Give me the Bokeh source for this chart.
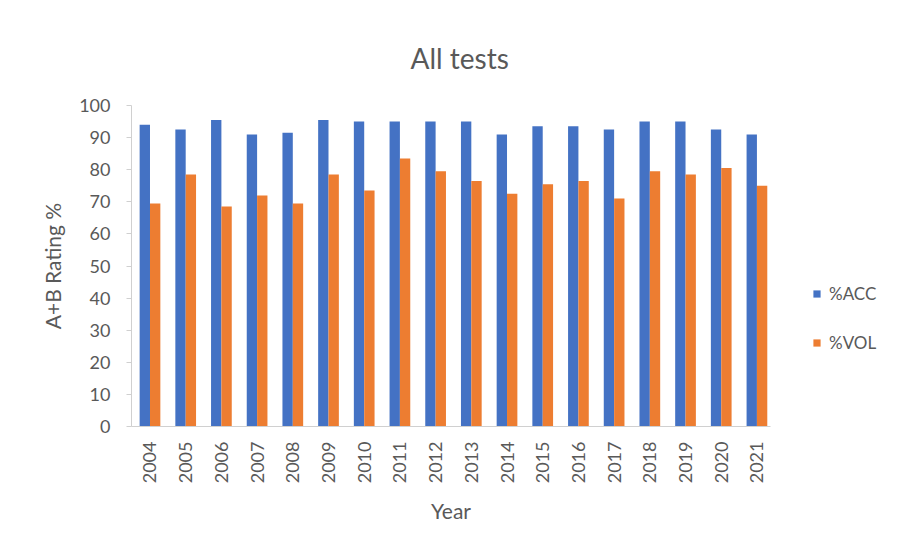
import math
from bokeh.plotting import figure
from bokeh.layouts import row
from bokeh.models import (ColumnDataSource, Range1d, FixedTicker, Legend, LegendItem, Title)
from bokeh.transform import dodge
from bokeh.embed import file_html
from bokeh.resources import INLINE

# ---- data ----
years = ["2004", "2005", "2006", "2007", "2008", "2009", "2010", "2011", "2012",
         "2013", "2014", "2015", "2016", "2017", "2018", "2019", "2020", "2021"]
acc = [94, 92.5, 95.5, 91, 91.5, 95.5, 95, 95, 95, 95, 91, 93.5, 93.5, 92.5, 95, 95, 92.5, 91]
vol = [69.5, 78.5, 68.5, 72, 69.5, 78.5, 73.5, 83.5, 79.5, 76.5, 72.5, 75.5, 76.5, 71, 79.5, 78.5, 80.5, 75]
y_ticks = [0, 10, 20, 30, 40, 50, 60, 70, 80, 90, 100]
series_names = ["%ACC", "%VOL"]
title_text = "All tests"
x_title = "Year"
y_title = "A+B Rating %"

FONT = "Lato"
TXT = "#595959"
BLUE = "#4472C4"
ORANGE = "#ED7D31"
AXIS = "#D0D0D0"

idx = list(range(len(years)))
src = ColumnDataSource(dict(x=idx, year=years, acc=acc, vol=vol))

p = figure(width=786, height=536, output_backend="svg", toolbar_location=None,
           x_range=Range1d(-0.518, 17.38), y_range=Range1d(0, 100),
           min_border_left=131, min_border_right=16, min_border_top=105, min_border_bottom=110)
p.outline_line_color = None
p.xgrid.visible = False
p.ygrid.visible = False

p.title = Title(text=title_text, align="left", offset=279, standoff=62,
                text_font=FONT, text_font_size="28px", text_font_style="normal",
                text_color=TXT)

p.vbar(x=dodge("x", -0.145), top="acc", width=0.29, source=src,
       fill_color=BLUE, line_color=None)
p.vbar(x=dodge("x", 0.145), top="vol", width=0.29, source=src,
       fill_color=ORANGE, line_color=None)

# x axis
xa = p.xaxis[0]
xa.ticker = FixedTicker(ticks=idx)
xa.major_label_overrides = {i: y for i, y in zip(idx, years)}
xa.major_label_orientation = math.pi / 2
xa.major_tick_out = 0
xa.major_tick_in = 0
xa.minor_tick_out = 0
xa.minor_tick_in = 0
xa.major_label_standoff = 15
xa.axis_line_color = AXIS
xa.major_label_text_font = FONT
xa.major_label_text_font_size = "18px"
xa.major_label_text_color = TXT
xa.axis_label = x_title
xa.axis_label_text_font = FONT
xa.axis_label_text_font_size = "21px"
xa.axis_label_text_font_style = "normal"
xa.axis_label_text_color = TXT
xa.axis_label_standoff = 12

# y axis
ya = p.yaxis[0]
ya.ticker = FixedTicker(ticks=y_ticks)
ya.major_tick_out = 5
ya.major_tick_in = 0
ya.minor_tick_out = 0
ya.minor_tick_in = 0
ya.major_tick_line_color = AXIS
ya.axis_line_color = AXIS
ya.major_label_standoff = 16
ya.major_label_text_font = FONT
ya.major_label_text_font_size = "18px"
ya.major_label_text_color = TXT
ya.axis_label = y_title
ya.axis_label_text_font = FONT
ya.axis_label_text_font_size = "21px"
ya.axis_label_text_font_style = "normal"
ya.axis_label_text_color = TXT
ya.axis_label_standoff = 11

# legend panel (separate figure to the right; its frame aligns with the main one)
pl = figure(width=100, height=536, output_backend="svg", toolbar_location=None,
            x_range=Range1d(0, 1), y_range=Range1d(0, 1),
            x_axis_type=None, y_axis_type=None,
            min_border_left=0, min_border_right=0, min_border_top=0, min_border_bottom=0)
pl.outline_line_color = None
pl.xgrid.visible = False
pl.ygrid.visible = False
k1 = pl.vbar(x="x", top="acc", width=0.29, source=src, fill_color=BLUE, line_color=None,
             visible=False)
k2 = pl.vbar(x="x", top="vol", width=0.29, source=src, fill_color=ORANGE, line_color=None,
             visible=False)
legend = Legend(items=[LegendItem(label=series_names[0], renderers=[k1]),
                       LegendItem(label=series_names[1], renderers=[k2])],
                location=(26, 73), orientation="vertical",
                glyph_width=9, glyph_height=9, label_height=20, spacing=28,
                label_standoff=8, padding=0, margin=0,
                border_line_color=None, background_fill_alpha=0,
                inactive_fill_alpha=0,
                label_text_font=FONT, label_text_font_size="17px", label_text_color=TXT)
pl.add_layout(legend, "center")

layout = row(p, pl, spacing=0)
open("out.html", "w").write(file_html(layout, INLINE))
